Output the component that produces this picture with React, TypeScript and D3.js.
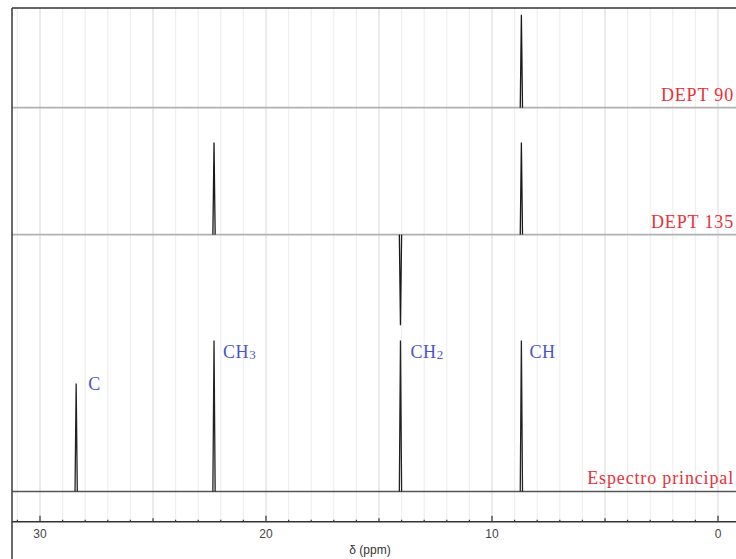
import React from "react";
import * as d3 from "d3";

// ---- data ----
const tracePpmMain = [28.4, 22.3, 14.05, 8.7];
const traceIntMain = [0.715, 1.0, 1.0, 1.0];
const tracePpm135 = [22.3, 14.05, 8.7];
const traceInt135 = [0.61, -0.6, 0.61];
const tracePpm90 = [8.7];
const traceInt90 = [0.615];
const traceNames = ["Espectro principal", "DEPT 135", "DEPT 90"];
const traceOffsets = [0, 1.7, 2.54];
const peakLabels = ["C", "CH", "CH", "CH"];
const peakLabelSubs = ["", "3", "2", ""];
const peakLabelPpm = [28.4, 22.3, 14.05, 8.7];
const peakLabelInt = [0.715, 1.0, 1.0, 1.0];
const tickValues = [30, 20, 10, 0];
const axisTitle = "δ (ppm)";

const W = 736;
const H = 559;
const plotLeft = 12;
const plotTop = 8;
const axisY = 521.7;

export default function App() {
  const x = d3.scaleLinear().domain([30, 0]).range([40, 718]);
  const y = d3.scaleLinear().domain([-0.2, 3.2]).range([axisY, plotTop]);
  const xMaxPpm = x.invert(plotLeft);
  const xMinPpm = x.invert(W + 4);
  const w = 0.05;

  const traces = [
    { ppm: tracePpmMain, int: traceIntMain },
    { ppm: tracePpm135, int: traceInt135 },
    { ppm: tracePpm90, int: traceInt90 },
  ];

  const line = d3
    .line<[number, number]>()
    .x((d) => x(d[0]))
    .y((d) => y(d[1]));

  const peakPaths: { d: string; main: boolean }[] = [];
  traces.forEach((t, i) => {
    const off = traceOffsets[i];
    t.ppm.forEach((p, j) => {
      const pts: [number, number][] = [
        [p + w, off],
        [p, off + t.int[j]],
        [p - w, off],
      ];
      peakPaths.push({ d: line(pts) || "", main: i === 0 });
    });
  });

  const gridVals = d3.range(Math.floor(xMaxPpm), Math.ceil(xMinPpm) - 1, -1);

  const labelDx = [12, 9, 10, 8];
  const labelDy = [7, 18, 18, 18];

  return (
    <svg
      width={W}
      height={H}
      style={{ position: "absolute", left: 0, top: 0, background: "#fff" }}
    >
      <defs>
        <clipPath id="plotClip">
          <rect x={plotLeft} y={plotTop} width={W - plotLeft + 10} height={axisY - plotTop} />
        </clipPath>
      </defs>
      <rect x={0} y={0} width={W} height={H} fill="#fff" />
      {/* grid */}
      <g>
        {gridVals.map((v) => (
          <line
            key={v}
            x1={x(v)}
            x2={x(v)}
            y1={plotTop}
            y2={axisY}
            stroke={v % 5 === 0 ? "#dedede" : "#efefef"}
            strokeWidth={1.2}
          />
        ))}
      </g>
      {/* baselines + traces */}
      <g clipPath="url(#plotClip)">
        {traceOffsets.map((off, i) => (
          <line
            key={"b" + i}
            x1={plotLeft}
            x2={W + 4}
            y1={y(off)}
            y2={y(off)}
            stroke={i === 0 ? "#555" : "#b0b0b0"}
            strokeWidth={i === 0 ? 1.4 : 1.8}
          />
        ))}
        {peakPaths.map((p, i) => (
          <path
            key={"p" + i}
            d={p.d}
            fill="none"
            stroke={p.main ? "#222" : "#1a1a1a"}
            strokeWidth={1.3}
          />
        ))}
      </g>
      {/* frame */}
      <line x1={plotLeft} x2={W} y1={plotTop} y2={plotTop} stroke="#333" strokeWidth={1.6} />
      <line x1={plotLeft} x2={plotLeft} y1={plotTop} y2={H} stroke="#444" strokeWidth={1.6} />
      {/* axis */}
      <line x1={plotLeft} x2={W} y1={axisY} y2={axisY} stroke="#333" strokeWidth={1.5} />
      {gridVals.map((v) => (
        <line
          key={"t" + v}
          x1={x(v)}
          x2={x(v)}
          y1={axisY}
          y2={axisY - (v % 10 === 0 ? 6 : v % 5 === 0 ? 3.5 : 2)}
          stroke="#333"
          strokeWidth={1.2}
        />
      ))}
      {tickValues.map((v) => (
        <text
          key={"tl" + v}
          x={x(v)}
          y={538}
          textAnchor="middle"
          fontFamily="'Liberation Sans', Arial, sans-serif"
          fontSize={12}
          fill="#444"
        >
          {v}
        </text>
      ))}
      <text
        x={370}
        y={554}
        textAnchor="middle"
        fontFamily="'Liberation Sans', Arial, sans-serif"
        fontSize={12}
        fill="#333"
      >
        {axisTitle}
      </text>
      {/* trace names */}
      {traceNames.map((n, i) => (
        <text
          key={"n" + i}
          x={734}
          y={y(traceOffsets[i]) - 7}
          textAnchor="end"
          fontFamily="'Liberation Serif', 'Times New Roman', serif"
          fontSize={18}
          letterSpacing={0.85}
          fill="#e8313a"
        >
          {n}
        </text>
      ))}
      {/* peak labels */}
      {peakLabels.map((l, i) => (
        <text
          key={"l" + i}
          x={x(peakLabelPpm[i]) + labelDx[i]}
          y={y(peakLabelInt[i]) + labelDy[i]}
          fontFamily="'Liberation Serif', 'Times New Roman', serif"
          fontSize={18}
          letterSpacing={0.6}
          fill="#4a55cc"
        >
          {l}
          {peakLabelSubs[i] ? (
            <tspan fontSize={13} dy={1}>
              {peakLabelSubs[i]}
            </tspan>
          ) : null}
        </text>
      ))}
    </svg>
  );
}
